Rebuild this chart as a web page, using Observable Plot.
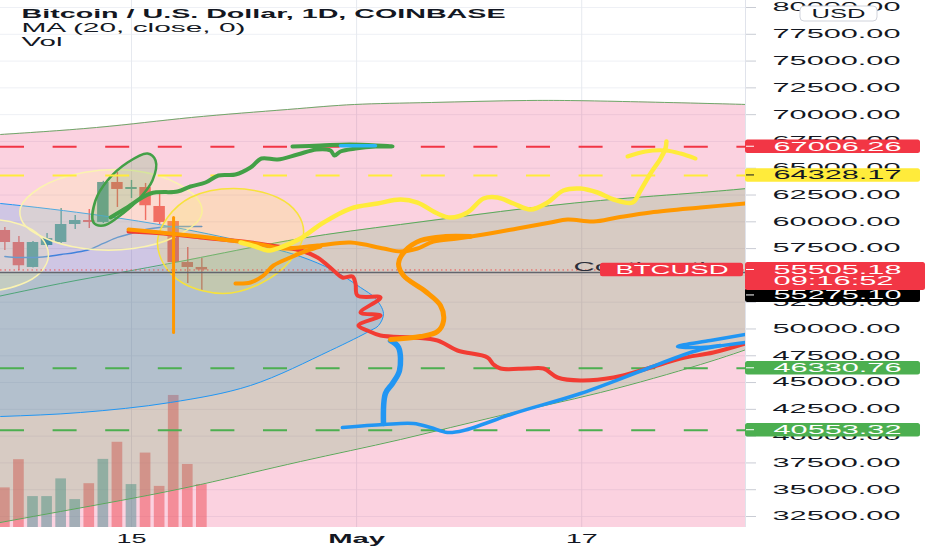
<!DOCTYPE html>
<html><head><meta charset="utf-8">
<script src="https://cdn.jsdelivr.net/npm/d3@7"></script>
<script src="https://cdn.jsdelivr.net/npm/@observablehq/plot@0.6"></script>
<style>
html,body{margin:0;padding:0;background:#fff;}
#chart svg{display:block;}
</style></head><body><div id="chart"></div>
<script>
// ---------- DATA (day number: April d = d, May d = 30 + d) ----------
const days    = [6, 7, 8, 9, 10, 11, 12, 13, 14, 15, 16, 17, 18, 19, 20];
const opens   = [59190, 58070, 55740, 57790, 58070, 59750, 60120, 59940, 63670, 63020, 63200, 61430, 60030, 56200, 55740];
const highs   = [59470, 58630, 58160, 58910, 61240, 60590, 61150, 63780, 64600, 63860, 63580, 62640, 60400, 57600, 56580];
const lows    = [57330, 55460, 55700, 57600, 57980, 59280, 59380, 59840, 61340, 62180, 60120, 59750, 51500, 54240, 53590];
const closes  = [58070, 55900, 58070, 58440, 59750, 60120, 59940, 63670, 63020, 63110, 61500, 59940, 56200, 55740, 55505.18];
const volumes = [13.2, 22.6, 10.3, 10.3, 16.2, 9.3, 14.6, 22.7, 28.4, 14.3, 24.8, 13.7, 44.0, 21.0, 14.3];
const ma20    = [56760, 56670, 56670, 56760, 56950, 57140, 57420, 57980, 58540, 58910, 59280, 59470, 59560, 59560, 59560];

const yTicks = [32500, 35000, 37500, 40000, 42500, 45000, 47500, 50000, 52500, 55000, 57500, 60000, 62500, 65000, 67500, 70000, 72500, 75000, 77500, 80000];
const xTicks = [15, 31, 47];
const xTickLabels = ["15", "May", "17"];

const titleText = "Bitcoin / U.S. Dollar, 1D, COINBASE";
const maText = "MA (20, close, 0)";
const volText = "Vol";

const levelPrices = [67006.26, 64328.17, 46330.76, 40553.32];
const levelColors = ["#f23645", "#ffeb3b", "#4caf50", "#4caf50"];
const levelText   = ["#ffffff", "#131722", "#ffffff", "#ffffff"];
const hLinePrice = 55275.10;
const lastPrice = 55505.18;
const countdown = "09:16:52";
const symbolText = "BTCUSD";
const note = {day: 46.42, price: 55275.10, text: "Continuation"};

// drawings: [day, price]
const pinkTop = [[4.27,68010],[5.69,68148],[12.51,68801],[19.26,69735],[26.09,70481],[30.85,70948],[36.32,71135],[43.07,71321],[49.90,71228],[58.71,70948],[59.5,70850]];
const channelDays  = [4.5, 9.95, 14.22, 19.90, 27.01, 34.12, 41.23, 48.33, 55.44, 59.5];
const channelUpper = [52750, 54243, 55270, 56669, 58442, 59749, 60962, 61989, 62735, 63202];
const channelLower = [31660, 32967, 33993, 35486, 37632, 39686, 41926, 44072, 46685, 48457];
const blueEllipse = [[-8.5,52190],[0.0,62269],[5.69,61709],[12.80,60589],[18.13,59469],[24.17,57789],[27.01,56763],[29.36,55456],[31.28,53870],[32.34,52844],[32.91,51443],[32.56,50324],[31.99,49857],[29.14,47991],[23.46,44725],[17.77,43139],[11.38,42205],[5.69,41832],[0.0,41645]];
const paleEllipse = [[7.11,61335],[8.53,63202],[11.59,64602],[15.14,64789],[18.27,63576],[19.90,61709],[19.90,60402],[17.99,58536],[15.14,57509],[11.59,57509],[8.75,58536],[7.32,59842]];
const smallEllipse = [[4.62,60122],[7.11,59749],[8.53,58629],[9.10,56856],[8.53,55270],[7.11,54150],[4.62,53590],[1.43,55456],[1.43,58256]];
const yellowEllipse = [[16.85,58256],[17.56,60402],[19.19,62269],[22.25,63109],[25.38,62269],[26.80,60775],[27.23,58909],[26.30,56390],[24.17,54243],[21.54,53310],[18.70,54243],[17.27,56109]];
const greenEllipse = [[12.30,59935],[12.44,61989],[13.29,63855],[14.72,65535],[16.14,66375],[16.71,65722],[16.49,63855],[15.43,61989],[14.01,60402],[13.01,59656]];

const greenBrush = [[13.51,60402],[14.57,61242],[16.35,62642],[18.27,62829],[19.19,63295],[20.26,63669],[21.18,64322],[22.39,64415],[23.46,65069],[24.24,65908],[25.38,65815],[26.80,66282],[28.15,66748],[29.14,66655],[29.43,66188],[29.85,66562],[30.92,66841],[32.34,67028],[33.55,67028],[30.57,67215],[28.43,67122],[26.44,67028]];
const cyanBrush = [[29.85,67100],[32.34,67100]];
const yellowBrush = [[22.75,58069],[23.81,57696],[24.67,57323],[25.59,57603],[27.01,58442],[28.65,59935],[30.57,61242],[32.48,61709],[34.12,62082],[35.33,61802],[36.75,60775],[37.67,60402],[38.88,60869],[40.02,62175],[41.01,62269],[42.15,61709],[43.36,61149],[44.57,61802],[45.70,62922],[46.91,63109],[48.12,62735],[49.26,62082],[50.61,61802],[51.18,62922],[51.89,64509],[52.60,65908],[52.95,66842],[53.02,67495]];
const yellowArrow = [[50.25,66095],[51.53,66562],[52.95,66655],[54.02,66375],[55.09,65908]];
const orangeMain = [[14.79,59282],[17.06,59002],[19.90,58629],[22.04,58256],[24.17,57883],[25.80,57509],[28.22,57789],[30.57,58069],[32.91,57509],[34.12,57229],[35.33,57509],[36.46,58162],[38.17,58442],[40.02,58816],[42.43,59376],[44.78,59935],[45.99,60215],[47.84,60029],[49.54,60402],[51.89,60869],[55.44,61335],[58.64,61709]];
const orangeLow = [[22.39,54243],[23.46,54336],[24.38,54990],[25.09,55923],[26.30,56669],[27.51,57323],[28.43,57696]];
const orangeS = [[39.09,58629],[37.32,58629],[35.54,58256],[34.47,57323],[33.98,56109],[34.33,54990],[35.90,53496],[36.96,52190],[37.18,50790],[36.75,49764],[35.54,49297],[33.41,49017]];
const orangeWick = [[17.99,60402],[17.99,49670]];
const redBrush = [[14.79,59096],[17.27,58909],[19.90,58536],[23.46,58069],[25.80,57603],[27.01,57323],[28.22,56669],[29.36,55456],[29.99,54803],[30.71,54896],[30.92,54243],[31.06,53124],[32.70,52937],[31.28,51537],[32.70,51257],[31.13,50324],[31.77,49857],[32.70,49390],[35.04,49204],[36.75,48924],[38.17,47991],[40.30,47338],[40.73,46685],[41.23,46311],[43.15,46311],[44.28,46311],[45.28,45472],[46.91,45192],[49.26,45472],[51.67,46311],[54.02,47244],[56.36,47804],[58.64,48644]];
const blueBrush = [[29.99,40805],[32.91,41085],[35.04,41179],[36.25,40805],[37.46,40338],[38.60,40525],[42.15,42112],[46.91,43979],[51.67,46311],[55.23,47991],[58.64,48737]];
const blueVertical = [[33.41,48924],[33.98,48271],[34.05,46125],[33.55,44912],[33.05,43979],[32.91,41179]];
const blueHook = [[58.64,49484],[56.15,48924],[53.81,48364],[55.44,48271],[56.86,48457]];

// ---------- build tables ----------
const candles = days.map((d, i) => ({day: d, open: opens[i], high: highs[i], low: lows[i], close: closes[i], vol: volumes[i], ma: ma20[i]}));
const up = candles.filter(d => d.close >= d.open);
const down = candles.filter(d => d.close < d.open);
const channel = channelDays.map((d, i) => ({day: d, upper: channelUpper[i], lower: channelLower[i]}));
const levels = levelPrices.map((p, i) => ({price: p, color: levelColors[i], fg: levelText[i]}));

const X_MIN = 5.69, X_MAX = 58.64, Y_MIN = 31474, Y_MAX = 80653;
const VOL_PRICE = 280; // price units per volume unit in the overlay volume pane

const pink = "rgba(233,30,99,0.2)", greenFill = "rgba(76,175,80,0.2)", blueFill = "rgba(33,150,243,0.2)";
const yellowFill = "rgba(255,235,59,0.2)", paleFill = "rgba(255,245,157,0.22)";
const px = d => d[0], py = d => d[1];

const brush = (data, stroke, w, extra = {}) => Plot.line(data, {x: px, y: py, stroke, strokeWidth: w, curve: "catmull-rom", strokeLinecap: "round", strokeLinejoin: "round", clip: true, ...extra});
const shape = (data, fill, stroke, w) => Plot.line(data, {x: px, y: py, curve: "catmull-rom-closed", fill, stroke, strokeWidth: w, clip: true});

const chart = Plot.plot({
  width: 932, height: 550,
  marginLeft: 0, marginRight: 187, marginTop: 0, marginBottom: 23,
  x: {domain: [X_MIN, X_MAX]},
  y: {domain: [Y_MIN, Y_MAX]},
  color: {type: "identity"},
  style: {background: "white", fontFamily: "'Liberation Sans', Arial, sans-serif", fontSize: "12px", color: "#131722"},
  marks: [
    Plot.ruleY(yTicks, {stroke: "#eef0f5"}),
    Plot.ruleX(xTicks, {stroke: "#e6e9ef"}),
    // volume
    Plot.rect(up, {x1: d => d.day - 0.5, x2: d => d.day + 0.5, insetLeft: 1.7, insetRight: 1.7, y1: Y_MIN, y2: d => Y_MIN + d.vol * VOL_PRICE, fill: "rgba(38,166,154,0.5)"}),
    Plot.rect(down, {x1: d => d.day - 0.5, x2: d => d.day + 0.5, insetLeft: 1.7, insetRight: 1.7, y1: Y_MIN, y2: d => Y_MIN + d.vol * VOL_PRICE, fill: "rgba(239,83,80,0.5)"}),
    // candles
    Plot.ruleX(up, {x: "day", y1: "low", y2: "high", stroke: "#26a69a", strokeWidth: 1.4}),
    Plot.ruleX(down, {x: "day", y1: "low", y2: "high", stroke: "#ef5350", strokeWidth: 1.4}),
    Plot.rect(up, {x1: d => d.day - 0.5, x2: d => d.day + 0.5, insetLeft: 1.3, insetRight: 1.3, y1: "open", y2: d => Math.max(d.close, d.open + 180), fill: "#26a69a"}),
    Plot.rect(down, {x1: d => d.day - 0.5, x2: d => d.day + 0.5, insetLeft: 1.3, insetRight: 1.3, y1: "open", y2: d => Math.min(d.close, d.open - 180), fill: "#ef5350"}),
    Plot.line(candles, {x: "day", y: "ma", stroke: "#2196f3", strokeWidth: 1.4, curve: "monotone-x"}),
    // big shapes
    Plot.areaY(pinkTop, {x: px, y1: Y_MIN - 3000, y2: py, curve: "natural", fill: pink, clip: true}),
    Plot.line(pinkTop, {x: px, y: py, curve: "natural", stroke: "#6fa86a", strokeWidth: 1, clip: true}),
    Plot.areaY(channel, {x: "day", y1: "lower", y2: d => Math.max(d.upper, hLinePrice), curve: "monotone-x", fill: greenFill, clip: true}),
    Plot.line(channel, {x: "day", y: "upper", curve: "natural", stroke: "#5aa95a", strokeWidth: 1, clip: true}),
    Plot.line(channel, {x: "day", y: "lower", curve: "natural", stroke: "#5aa95a", strokeWidth: 1, clip: true}),
    shape(blueEllipse, blueFill, "#2196f3", 1),
    shape(smallEllipse, paleFill, "#fbf3b0", 1.5),
    shape(paleEllipse, paleFill, "#fbf3b0", 1.5),
    shape(yellowEllipse, yellowFill, "#f7e23c", 1.5),
    shape(greenEllipse, greenFill, "#43a047", 2.5),
    // horizontal levels
    Plot.ruleY(levels, {y: "price", stroke: "color", strokeWidth: 2, strokeDasharray: "24,28.6"}),
    Plot.ruleY([hLinePrice], {stroke: "#62656e", strokeWidth: 1.6}),
    Plot.ruleY([lastPrice], {stroke: "#ef5350", strokeWidth: 1, strokeDasharray: "1.5,3"}),
    // brushes
    brush(redBrush, "#f23c33", 4),
    brush(blueBrush, "#2196f3", 3.5),
    brush(blueVertical, "#2196f3", 5.5),
    brush(blueHook, "#2196f3", 3.5),
    brush(orangeMain, "#ff9800", 4),
    brush(orangeLow, "#ff9800", 4),
    brush(orangeS, "#ff9800", 5),
    brush(orangeWick, "#ff9800", 3, {curve: "linear"}),
    brush(yellowBrush, "#ffeb3b", 4.5),
    brush(yellowArrow, "#ffeb3b", 4),
    brush(greenBrush, "#43a047", 4),
    brush(cyanBrush, "#29b6f6", 3.5, {curve: "linear"}),
    Plot.ruleX([X_MAX], {stroke: "#e0e3eb"}),
    // note text
    Plot.text([note], {x: "day", y: "price", text: "text", textAnchor: "start", lineAnchor: "middle", dy: -5, fontSize: 12.5, fill: "#2a2e39"}),
    // axes
    Plot.axisY(yTicks, {anchor: "right", tickSize: 10, tickPadding: 17, tickFormat: d => d.toFixed(2), stroke: "#c9ccd4", color: "#131722", fontSize: 12, label: null}),
    Plot.axisX(xTicks, {anchor: "bottom", tickSize: 0, tickPadding: 7, tickFormat: d => xTickLabels[xTicks.indexOf(d)], color: "#131722", fontSize: 12, label: null}),
    // legend texts
    Plot.text([titleText], {text: d => d, frameAnchor: "top-left", dx: 21, dy: 9, lineAnchor: "top", textAnchor: "start", fontWeight: "bold", fontSize: 12, fill: "#131722"}),
    Plot.text([maText], {text: d => d, frameAnchor: "top-left", dx: 21, dy: 22.5, lineAnchor: "top", textAnchor: "start", fontSize: 12, fill: "#131722"}),
    Plot.text([volText], {text: d => d, frameAnchor: "top-left", dx: 21, dy: 36.5, lineAnchor: "top", textAnchor: "start", fontSize: 12, fill: "#131722"}),
    // price tags text
    Plot.text(levels, {y: "price", text: d => d.price.toFixed(2), frameAnchor: "right", dx: 28, textAnchor: "start", fill: "fg", fontSize: 12}),
    Plot.text([hLinePrice], {y: d => d, text: d => d.toFixed(2), frameAnchor: "right", dx: 28, dy: 23, textAnchor: "start", fill: "white", fontSize: 12}),
    Plot.text([lastPrice], {y: d => d, text: d => d.toFixed(2), frameAnchor: "right", dx: 28, textAnchor: "start", fill: "white", fontSize: 12}),
    Plot.text([lastPrice], {y: d => d, text: () => countdown, frameAnchor: "right", dx: 28, dy: 11.5, textAnchor: "start", fill: "white", fontSize: 12}),
    Plot.text([lastPrice], {y: d => d, text: () => symbolText, frameAnchor: "right", dx: -130, textAnchor: "start", fill: "white", fontSize: 12})
  ]
});
document.getElementById("chart").append(chart);

// ---------- post-processing: tag boxes, stretched text ----------
const svg = d3.select(chart);
const sy = chart.scale("y"), sx = chart.scale("x");
const xR = sx.apply(X_MAX);
const bg = svg.append("g");
const box = (x, y, w, h, fill) => bg.append("rect").attr("x", x).attr("y", y).attr("width", w).attr("height", h).attr("rx", 2.5).attr("fill", fill);
const dash = (y, color) => bg.append("line").attr("x1", xR + 1).attr("x2", xR + 9).attr("y1", y).attr("y2", y).attr("stroke", color).attr("stroke-width", 1);
levels.forEach(l => { const cy = sy.apply(l.price); box(xR, cy - 6.8, 175, 13.6, l.color); dash(cy, l.fg); });
{ const cy = sy.apply(hLinePrice) + 23; box(xR, cy - 7, 175, 14, "#000000"); dash(cy, "#fff"); }
{ const cy = sy.apply(lastPrice); box(xR, cy - 7.5, 180, 28, "#f23645"); dash(cy, "#fff"); box(xR - 145, cy - 6.8, 143, 13.6, "#f23645"); }
// bring the tag texts above their boxes
const tagStrings = new Set([...levelPrices.map(p => p.toFixed(2)), hLinePrice.toFixed(2), lastPrice.toFixed(2), countdown, symbolText]);
const tagGroups = new Set();
chart.querySelectorAll("text").forEach(el => {
  if (tagStrings.has(el.textContent.trim())) tagGroups.add(el.parentNode);
});
tagGroups.forEach(g => chart.appendChild(g));
// currency button
const usd = svg.append("g");
usd.append("rect").attr("x", xR + 55).attr("y", 6).attr("width", 77).attr("height", 15).attr("rx", 4).attr("fill", "#fff").attr("stroke", "#d1d4dc");
usd.append("text").attr("x", xR + 93.5).attr("y", 13.5).attr("dy", "0.35em").attr("text-anchor", "middle").attr("font-size", 12).attr("fill", "#131722").text("USD");

const widths = new Map([[titleText, 484], [maText, 224], [volText, 41], ["15", 30], ["May", 57], ["17", 32], ["USD", 54], [countdown, 120], [symbolText, 113], [note.text, 165]]);
svg.selectAll("text").each(function () {
  const s = this.textContent.trim();
  let w = widths.get(s);
  if (w === undefined && /^\d{5}\.\d{2}$/.test(s)) w = 128;
  if (w) { this.setAttribute("textLength", w); this.setAttribute("lengthAdjust", "spacingAndGlyphs"); }
  if (s === "May") this.setAttribute("font-weight", "bold");
});
</script></body></html>
